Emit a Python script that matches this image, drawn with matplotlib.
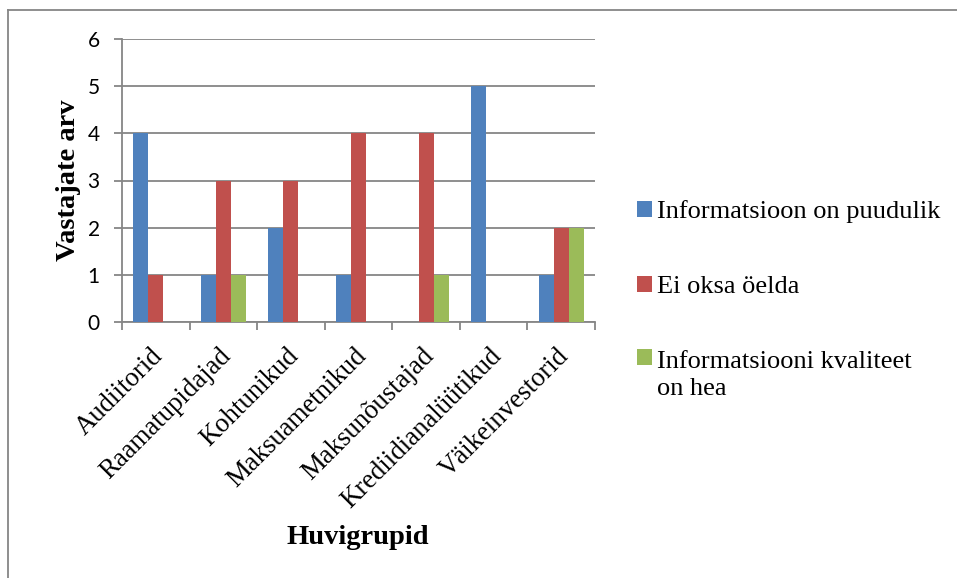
import matplotlib
matplotlib.use("Agg")
import matplotlib.pyplot as plt
from matplotlib.lines import Line2D
from matplotlib.patches import Rectangle
from matplotlib.legend_handler import HandlerPatch
from matplotlib.transforms import ScaledTranslation
import numpy as np

categories = ["Audiitorid", "Raamatupidajad", "Kohtunikud", "Maksuametnikud",
              "Maksunõustajad", "Krediidianalüütikud", "Väikeinvestorid"]
series_names = ["Informatsioon on puudulik", "Ei oksa öelda",
                "Informatsiooni kvaliteet\non hea"]
puudulik = [4, 1, 2, 1, 0, 5, 1]
ei_oska = [1, 3, 3, 4, 4, 0, 2]
hea = [0, 1, 0, 0, 1, 0, 2]
y_ticks = [0, 1, 2, 3, 4, 5, 6]

colors = ["#4F81BD", "#C0504D", "#9BBB59"]
grid_col = "#868686"
serif = "Liberation Serif"
sans = "Lato"

W, H = 957, 578
fig = plt.figure(figsize=(W / 100, H / 100), dpi=100)
ax = fig.add_axes([122 / W, 1 - 322 / H, (595 - 122) / W, (322 - 39) / H])

x = np.arange(len(categories))
bw = 1 / 4.5
bars = []
for i, (vals, col, name) in enumerate(zip([puudulik, ei_oska, hea], colors, series_names)):
    bars.append(ax.bar(x + (i - 1) * bw, vals, width=bw, color=col, label=name,
                       zorder=3, edgecolor="none"))

ax.set_xlim(-0.5, len(categories) - 0.5)
ax.set_ylim(0, 6)
ax.set_yticks(y_ticks)
ax.set_yticklabels([str(v) for v in y_ticks], fontfamily=sans, fontsize=15)
ax.yaxis.grid(True, color=grid_col, linewidth=1.3, zorder=0)
ax.set_axisbelow(True)

# tick marks between categories, labels at category centres
ax.set_xticks(np.arange(len(categories) + 1) - 0.5)
ax.set_xticklabels([])
ax.set_xticks(x, minor=True)
ax.set_xticklabels(categories, minor=True, rotation=45, ha="right",
                   rotation_mode="anchor", fontfamily=serif, fontsize=19.3)
ax.tick_params(axis="x", which="minor", length=0, pad=15.5)
ax.tick_params(axis="x", which="major", length=6, width=1.3, color=grid_col)
ax.tick_params(axis="y", length=6, width=1.3, color=grid_col, pad=10)
shift = ScaledTranslation(-5 / 100, 0, fig.dpi_scale_trans)
for lbl in ax.get_xticklabels(minor=True):
    lbl.set_transform(lbl.get_transform() + shift)

for s in ["top", "right"]:
    ax.spines[s].set_visible(False)
for s in ["left", "bottom"]:
    ax.spines[s].set_color(grid_col)
    ax.spines[s].set_linewidth(1.3)

ax.set_ylabel("Vastajate arv", fontfamily=serif, fontsize=20.5, fontweight="bold",
              labelpad=5)
ax.set_xlabel("Huvigrupid", fontfamily=serif, fontsize=20.5, fontweight="bold")
ax.xaxis.set_label_coords((358 - 122) / (595 - 122), -(537 - 322) / (322 - 39))
ax.xaxis.label.set_va("center")


def square_top_line(legend, orig_handle, xdescent, ydescent, width, height, fontsize):
    # keep the swatch level with the first line of a wrapped label
    return Rectangle((-xdescent, -ydescent + 12.8), width, height)


handles = [b.patches[0] for b in bars]
handler_map = {handles[2]: HandlerPatch(patch_func=square_top_line)}
leg = fig.legend(handles=handles, labels=series_names, loc="upper left",
                 bbox_to_anchor=(637 / W, 1 - 200 / H),
                 frameon=False, prop={"family": serif, "size": 19},
                 handlelength=0.55, handleheight=0.55, handletextpad=0.2,
                 labelspacing=2.0, borderaxespad=0, borderpad=0,
                 handler_map=handler_map)
for t in leg.get_texts():
    t.set_linespacing(1.32)

# outer chart border (top and left edges)
fig.add_artist(Line2D([8 / W, 1], [1 - 10 / H, 1 - 10 / H], color=grid_col, lw=1.3))
fig.add_artist(Line2D([8 / W, 8 / W], [0, 1 - 10 / H], color=grid_col, lw=1.3))

fig.savefig("out.png", dpi=100, facecolor="white")
